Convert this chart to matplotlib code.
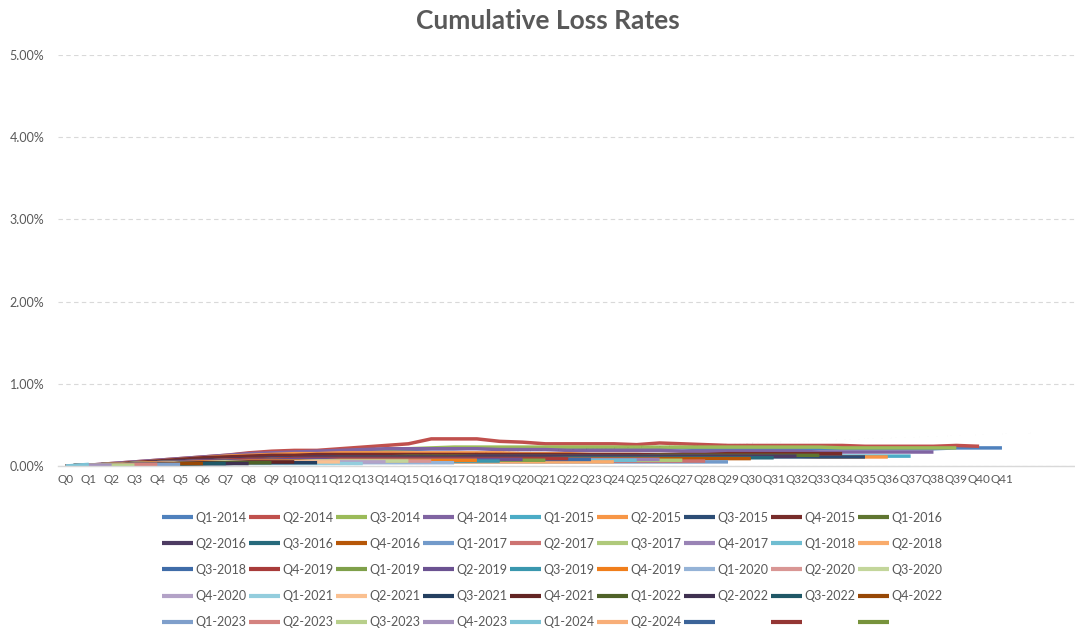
import matplotlib
matplotlib.use("Agg")
import matplotlib.pyplot as plt
from matplotlib.ticker import PercentFormatter

plt.rcParams['font.family'] = ['Lato', 'DejaVu Sans']

# cumulative loss rate (%) by quarter since origination, one list per cohort
q1_2014 = [0, .01, .02, .03, .05, .07, .09, .11, .13, .14, .15, .16, .17, .18, .19, .20, .21, .21, .22, .22, .22,
           .22, .22, .22, .22, .22, .22, .22, .21, .21, .21, .21, .21, .21, .21, .21, .21, .21, .21, .22, .22, .22]
q2_2014 = [0, .01, .03, .05, .07, .09, .11, .13, .16, .18, .19, .19, .21, .23, .25, .27, .33, .33, .33, .30, .29,
           .27, .27, .27, .27, .26, .28, .27, .26, .25, .25, .25, .25, .25, .25, .24, .24, .24, .24, .25, .24]
q3_2014 = [0, .01, .02, .04, .06, .08, .10, .12, .14, .15, .16, .17, .18, .19, .20, .21, .22, .23, .23, .23,
           .23, .23, .23, .23, .23, .23, .23, .23, .23, .23, .23, .23, .23, .23, .22, .22, .22, .22, .22, .22]
q4_2014 = [0, .01, .03, .05, .07, .09, .11, .13, .15, .16, .17, .18, .19, .20, .21, .21, .21, .21, .21, .20,
           .20, .20, .19, .19, .19, .19, .19, .18, .18, .18, .18, .18, .18, .17, .17, .17, .17, .17, .17]
q1_2015 = [0, .01, .02, .03, .04, .05, .06, .07, .08, .09, .10, .10, .11, .11, .12, .12, .12, .12, .12, .12,
           .12, .12, .12, .12, .12, .12, .12, .12, .12, .12, .12, .12, .12, .12, .12, .12, .12, .12]
q2_2015 = [0, .01, .02, .04, .06, .08, .10, .12, .13, .14, .15, .15, .16, .16, .16, .16, .16, .16, .16, .16,
           .15, .15, .15, .14, .14, .14, .13, .13, .13, .12, .12, .12, .12, .11, .11, .11, .11]
q3_2015 = [0, .01, .02, .03, .04, .05, .06, .07, .08, .09, .10, .10, .11, .11, .11, .11, .11, .11, .11, .11,
           .11, .11, .11, .11, .11, .11, .11, .11, .11, .11, .11, .11, .11, .11, .11, .11]
q4_2015 = [0, .01, .02, .04, .06, .08, .10, .11, .12, .13, .13, .14, .14, .14, .14, .14, .14, .14, .14, .14,
           .14, .14, .14, .14, .14, .14, .14, .14, .14, .15, .15, .15, .15, .15, .15]
q1_2016 = [0, .01, .02, .03, .04, .05, .06, .07, .08, .09, .10, .10, .11, .11, .11, .12, .12, .12, .12, .12,
           .12, .12, .12, .12, .12, .12, .13, .13, .13, .13, .13, .13, .13, .13]
q2_2016 = [0, .01, .02, .03, .05, .06, .07, .08, .09, .10, .10, .11, .11, .11, .11, .11, .11, .11, .12, .12,
           .12, .12, .12, .12, .12, .12, .12, .12, .12, .12, .12, .12, .12]
q3_2016 = [0, .01, .02, .03, .04, .05, .06, .07, .07, .08, .08, .08, .09, .09, .09, .09, .09, .09, .09, .09,
           .09, .09, .10, .10, .10, .10, .10, .10, .10, .10, .10, .10]
q4_2016 = [0, .01, .02, .03, .04, .05, .06, .07, .08, .08, .09, .09, .09, .09, .09, .09, .09, .09, .09, .09,
           .09, .09, .09, .09, .09, .09, .09, .09, .09, .09, .09]
q1_2017 = [0, .01, .01, .02, .03, .03, .04, .04, .04, .05, .05, .05, .05, .05, .05, .05, .05, .05, .05, .05,
           .05, .05, .05, .05, .05, .05, .05, .05, .05, .05]
q2_2017 = [0, .01, .02, .02, .03, .04, .05, .05, .06, .06, .06, .06, .06, .06, .06, .06, .06, .06, .06, .06,
           .06, .06, .06, .06, .06, .06, .06, .06, .06]
q3_2017 = [0, .01, .02, .03, .04, .05, .05, .06, .06, .06, .06, .06, .06, .06, .06, .07, .07, .07, .07, .07,
           .07, .07, .07, .07, .07, .07, .07, .07]
q4_2017 = [0, .01, .02, .03, .04, .05, .06, .07, .07, .08, .08, .08, .08, .08, .08, .08, .08, .08, .08, .08,
           .08, .08, .08, .08, .08, .08, .08]
q1_2018 = [0, .01, .02, .03, .04, .04, .05, .05, .06, .06, .06, .06, .07, .07, .07, .07, .07, .07, .07, .07,
           .07, .07, .07, .07, .07, .07]
q2_2018 = [0, .01, .01, .02, .03, .03, .04, .04, .04, .05, .05, .05, .05, .05, .05, .05, .05, .05, .05, .05,
           .05, .05, .05, .05, .05]
q3_2018 = [0, .01, .02, .03, .04, .05, .06, .06, .07, .07, .07, .08, .08, .08, .08, .08, .08, .08, .08, .08,
           .08, .08, .08, .08]
q4_2019a = [0, .01, .02, .03, .04, .05, .06, .07, .08, .08, .09, .09, .09, .09, .09, .09, .09, .09, .09, .09,
            .09, .09, .09]
q1_2019 = [0, .01, .02, .03, .04, .05, .05, .06, .06, .07, .07, .07, .07, .07, .07, .07, .07, .07, .07, .07,
           .07, .07]
q2_2019 = [0, .01, .02, .03, .04, .05, .06, .06, .07, .07, .08, .08, .08, .08, .08, .08, .08, .08, .08, .08, .08]
q3_2019 = [0, .01, .02, .03, .03, .04, .04, .05, .05, .05, .06, .06, .06, .06, .06, .06, .06, .06, .06, .06]
q4_2019 = [0, .01, .02, .03, .04, .04, .05, .05, .06, .06, .06, .06, .07, .07, .07, .07, .07, .07, .07]
q1_2020 = [0, .01, .01, .02, .02, .03, .03, .03, .04, .04, .04, .04, .04, .04, .04, .04, .04, .04]
q2_2020 = [0, .01, .02, .02, .03, .04, .04, .05, .05, .05, .05, .06, .06, .06, .06, .06, .06]
q3_2020 = [0, .01, .02, .03, .03, .04, .04, .05, .05, .05, .05, .06, .06, .06, .06, .06]
q4_2020 = [0, .01, .01, .02, .03, .03, .04, .04, .04, .05, .05, .05, .05, .05, .05]
q1_2021 = [0, .01, .01, .02, .02, .02, .03, .03, .03, .03, .03, .03, .03, .03]
q2_2021 = [0, .01, .02, .02, .03, .03, .04, .04, .04, .05, .05, .05, .05]
q3_2021 = [0, .01, .01, .02, .02, .03, .03, .03, .04, .04, .04, .04]
q4_2021 = [0, .01, .02, .02, .03, .03, .04, .04, .05, .05, .05]
q1_2022 = [0, .01, .01, .02, .02, .03, .03, .04, .04, .04]
q2_2022 = [0, .01, .01, .02, .02, .03, .03, .03, .03]
q3_2022 = [0, .01, .01, .02, .02, .02, .03, .03]
q4_2022 = [0, .01, .01, .02, .02, .03, .03]
q1_2023 = [0, .01, .01, .02, .02, .02]
q2_2023 = [0, .01, .01, .02, .02]
q3_2023 = [0, .01, .01, .01]
q4_2023 = [0, .01, .01]
q1_2024 = [0, .02]
q2_2024 = [0]

series = [q1_2014, q2_2014, q3_2014, q4_2014, q1_2015, q2_2015, q3_2015, q4_2015, q1_2016,
          q2_2016, q3_2016, q4_2016, q1_2017, q2_2017, q3_2017, q4_2017, q1_2018, q2_2018,
          q3_2018, q4_2019a, q1_2019, q2_2019, q3_2019, q4_2019, q1_2020, q2_2020, q3_2020,
          q4_2020, q1_2021, q2_2021, q3_2021, q4_2021, q1_2022, q2_2022, q3_2022, q4_2022,
          q1_2023, q2_2023, q3_2023, q4_2023, q1_2024, q2_2024, [], [], []]

labels = ["Q1-2014", "Q2-2014", "Q3-2014", "Q4-2014", "Q1-2015", "Q2-2015", "Q3-2015", "Q4-2015", "Q1-2016",
          "Q2-2016", "Q3-2016", "Q4-2016", "Q1-2017", "Q2-2017", "Q3-2017", "Q4-2017", "Q1-2018", "Q2-2018",
          "Q3-2018", "Q4-2019", "Q1-2019", "Q2-2019", "Q3-2019", "Q4-2019", "Q1-2020", "Q2-2020", "Q3-2020",
          "Q4-2020", "Q1-2021", "Q2-2021", "Q3-2021", "Q4-2021", "Q1-2022", "Q2-2022", "Q3-2022", "Q4-2022",
          "Q1-2023", "Q2-2023", "Q3-2023", "Q4-2023", "Q1-2024", "Q2-2024", "", "", ""]

quarters = ["Q%d" % i for i in range(42)]

colors = ["#4F81BD", "#C0504D", "#9BBB59", "#8064A2", "#4BACC6", "#F79646",
          "#2C4D75", "#772C2A", "#5F7530", "#4D3B62", "#276A7C", "#B65708",
          "#729ACA", "#CD7371", "#AFC97A", "#9983B5", "#6FBDD1", "#F9AB6B",
          "#3F6CA8", "#A83B3A", "#7FA04A", "#6B5291", "#3A97AE", "#F07E1B",
          "#95B3D7", "#D99694", "#C3D69B", "#B3A2C7", "#93CDDD", "#FAC090",
          "#243F60", "#632523", "#4F6228", "#3F3151", "#205867", "#974806",
          "#7F9FCB", "#D4827F", "#B8CF8B", "#A491BC", "#7DC3D6", "#F8AE78",
          "#3C6499", "#943634", "#77933C"]

fig = plt.figure(figsize=(10.75, 6.3), dpi=100)
ax = fig.add_axes([58 / 1075, 164 / 630, 1017 / 1075, 411 / 630])

handles = []
for vals, col in zip(series, colors):
    line, = ax.plot(range(len(vals)), vals, color=col, linewidth=2.5, solid_capstyle='butt')
    handles.append(line)

ax.set_ylim(0, 5)
ax.set_xlim(-0.35, 44.2)
ax.yaxis.set_major_formatter(PercentFormatter(xmax=100, decimals=2))
ax.set_yticks([0, 1, 2, 3, 4, 5])
ax.set_xticks(range(len(quarters)))
ax.set_xticklabels(quarters)
ax.tick_params(axis='both', length=0, colors='#595959', labelsize=8.5)
ax.tick_params(axis='x', pad=6)
ax.tick_params(axis='y', pad=10, labelsize=9)
ax.grid(axis='y', color='#D9D9D9', linestyle=(0, (4, 3)), linewidth=0.8)
ax.set_axisbelow(True)
for s in ['top', 'right', 'left']:
    ax.spines[s].set_visible(False)
ax.spines['bottom'].set_color('#D9D9D9')
ax.spines['bottom'].set_linewidth(1.0)

fig.suptitle("Cumulative Loss Rates", x=0.51, y=0.985, fontsize=19, fontweight='bold', color='#595959')

# excel fills the legend row by row, matplotlib column by column
nrow, ncol = 5, 9
order = [r * ncol + c for c in range(ncol) for r in range(nrow)]
leg = fig.legend([handles[i] for i in order], [labels[i] for i in order],
                 loc='upper center', bbox_to_anchor=(0.5135, 0.196), ncol=ncol, frameon=False,
                 fontsize=9, handlelength=2.5, handletextpad=0.15, columnspacing=0.22,
                 labelspacing=1.13, borderaxespad=0)
for t in leg.get_texts():
    t.set_color('#595959')
for h in leg.legend_handles:
    h.set_linewidth(3)

fig.savefig("out.png", dpi=100)
